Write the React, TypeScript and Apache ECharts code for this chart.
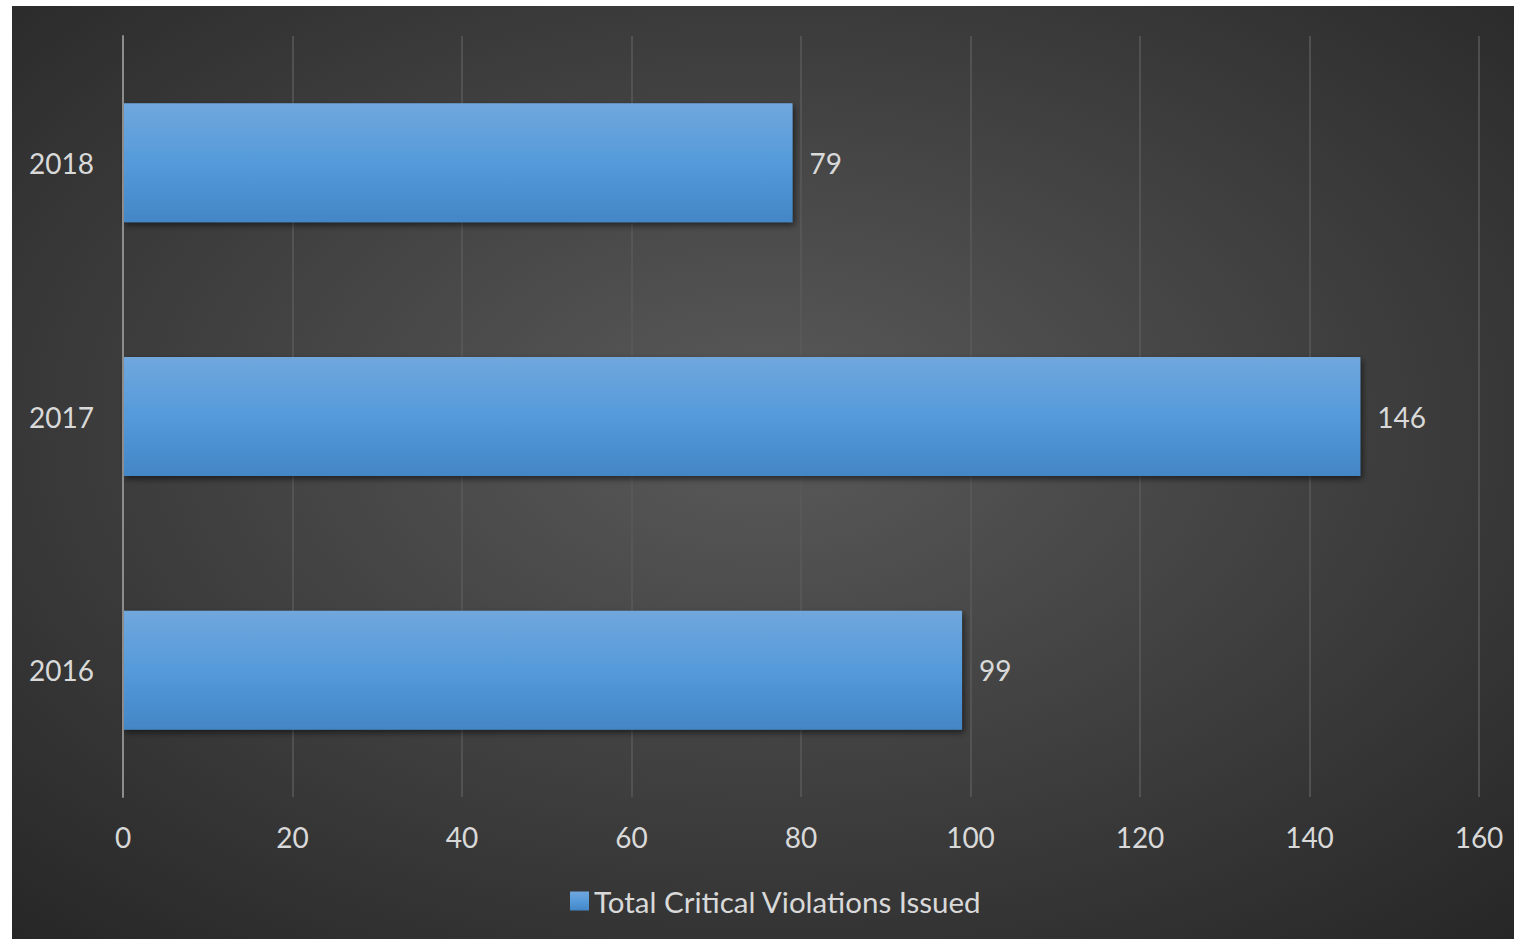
import React, { useEffect, useRef } from "react";
import * as echarts from "echarts";

const categories = ["2016", "2017", "2018"];
const violations = [99, 146, 79];
const xTicks = { min: 0, max: 160, interval: 20 };
const seriesName = "Total Critical Violations Issued";

const FONT = "Lato, 'Open Sans', sans-serif";
const TEXT = "#d9d9d9";

export default function App() {
  const ref = useRef<HTMLDivElement>(null);
  useEffect(() => {
    if (!ref.current) return;
    const chart = echarts.init(ref.current, null, { renderer: "svg" });
    chart.setOption({
      animation: false,
      backgroundColor: {
        type: "radial",
        x: 0.5,
        y: 0.45,
        r: 0.75,
        colorStops: [
          { offset: 0, color: "#5a5a5a" },
          { offset: 1, color: "#262626" },
        ],
      },
      textStyle: { fontFamily: FONT },
      grid: { left: 111, right: 35, top: 30, bottom: 142, containLabel: false },
      legend: {
        left: 553,
        top: 875,
        icon: "rect",
        itemWidth: 19,
        itemHeight: 19,
        itemGap: 8,
        textStyle: { color: TEXT, fontSize: 29.5, fontFamily: FONT },
        data: [seriesName],
      },
      xAxis: {
        type: "value",
        min: xTicks.min,
        max: xTicks.max,
        interval: xTicks.interval,
        axisLine: { show: false },
        axisTick: { show: false },
        axisLabel: { color: TEXT, fontSize: 28, margin: 26, fontFamily: FONT },
        splitLine: { lineStyle: { color: "#5a5a5a", width: 1.5 } },
      },
      yAxis: {
        type: "category",
        data: categories,
        z: 5,
        axisLine: { show: true, lineStyle: { color: "#8c8c8c", width: 2 } },
        axisTick: { show: false },
        axisLabel: { color: TEXT, fontSize: 28, margin: 29, fontFamily: FONT },
        splitLine: { show: false },
      },
      series: [
        {
          name: seriesName,
          type: "bar",
          data: violations,
          barWidth: 119,
          itemStyle: {
            color: {
              type: "linear",
              x: 0,
              y: 0,
              x2: 0,
              y2: 1,
              colorStops: [
                { offset: 0, color: "#70a7dd" },
                { offset: 0.5, color: "#559ada" },
                { offset: 1, color: "#4386c6" },
              ],
            },
            shadowColor: "rgba(0,0,0,0.55)",
            shadowBlur: 6,
            shadowOffsetX: 2,
            shadowOffsetY: 3,
          },
          label: {
            show: true,
            position: "right",
            distance: 17,
            color: TEXT,
            fontSize: 28,
            fontFamily: FONT,
          },
        },
      ],
    });
    return () => chart.dispose();
  }, []);
  return (
    <div
      ref={ref}
      style={{ position: "absolute", left: 12, top: 6, width: 1502, height: 933 }}
    />
  );
}
